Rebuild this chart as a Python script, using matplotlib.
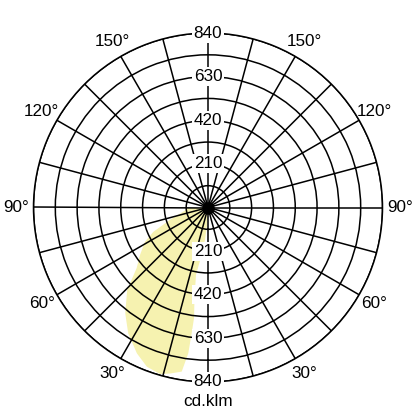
import numpy as np
import matplotlib
matplotlib.use("Agg")
import matplotlib.pyplot as plt

# ring values (cd/klm) and angular labels
ring_values = [105, 210, 315, 420, 525, 630, 735, 840]
ring_labels = [210, 420, 630, 840]
angle_labels = [30, 60, 90, 120, 150]

# outline of the light distribution (gamma in degrees, intensity in cd/klm)
beam_gamma = [0, 3, 5.3, 8, 10.1, 8.5, 7.2, 7.4, 7.7, 9.1, 12.9, 16.1, 21, 26,
              32.4, 38, 44.4, 49.7, 55, 61.5, 66, 72, 83, 88, 90]
beam_cd = [0, 80, 157, 240, 329, 440, 536, 611, 708, 800, 820, 834, 821, 781,
           717, 647, 556, 450, 400, 345, 288, 193, 110, 100, 0]

plt.rcParams['font.family'] = ['Liberation Sans', 'DejaVu Sans']
fs = 12.3

fig = plt.figure(figsize=(4.16, 4.16), dpi=100)
rad = 174.5 / 416
cy = 1 - 207.5 / 416
ax = fig.add_axes([0.5 - rad, cy - rad, 2 * rad, 2 * rad], projection='polar')
ax.set_theta_zero_location('S')
ax.set_theta_direction(-1)

# beam fill
ax.fill(np.deg2rad(beam_gamma), beam_cd, color='#f6f2b0', lw=0, zorder=1)

ax.set_rlim(0, 840)
ax.set_rticks(ring_values)
ax.set_yticklabels([])
ax.set_thetagrids(np.arange(0, 360, 15), labels=[''] * 24)
ax.grid(True, color='black', lw=1.1, ls='-')
ax.spines['polar'].set_color('black')
ax.spines['polar'].set_linewidth(1.1)
ax.plot(0, 0, 'o', color='black', ms=8, zorder=4)

box = dict(boxstyle='square,pad=0.12', fc='white', ec='none')
for v in ring_labels:
    for th in (np.pi, 0):
        ax.text(th, v, str(v), ha='center', va='center', fontsize=fs,
                bbox=box, zorder=5)

for a in angle_labels:
    for th in (a, -a):
        ax.text(np.deg2rad(th), 924, f'{a}°', ha='center', va='center',
                fontsize=fs)

fig.text(0.5, 1 - 401 / 416, 'cd.klm', ha='center', va='center', fontsize=fs)

fig.savefig('out.png', dpi=100)
